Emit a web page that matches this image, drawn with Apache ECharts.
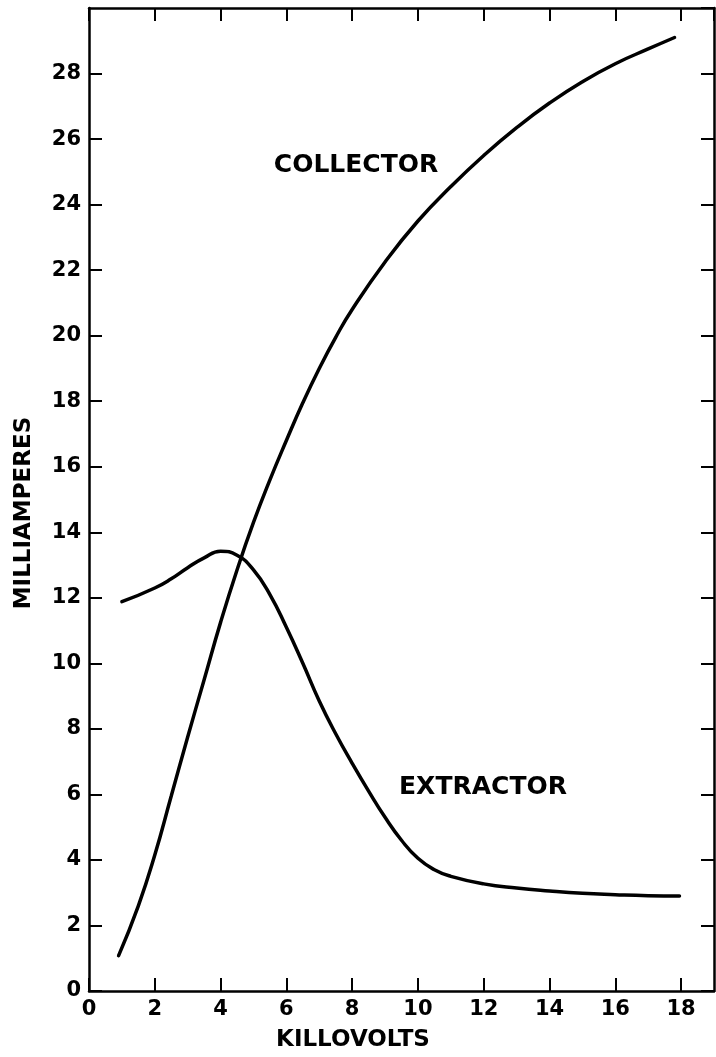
<!DOCTYPE html>
<html>
<head>
<meta charset="utf-8">
<script src="https://cdn.jsdelivr.net/npm/echarts@6/dist/echarts.min.js"></script>
<style>
    html, body { margin: 0; padding: 0; background: #fff; }
    #chart { width: 716px; height: 1057px; }
</style>
</head>
<body>
<div id="chart"></div>
<script>
// 曲线数据 (千伏, 毫安)
const collectorX = [0.9, 1.5, 2, 2.5, 3, 3.5, 4, 4.5, 5, 5.5, 6, 6.5, 7, 7.5, 8, 9, 10, 11, 12, 13, 14, 15, 16, 17, 17.8];
const collectorY = [1.08, 2.6, 4.15, 5.95, 7.75, 9.5, 11.25, 12.85, 14.3, 15.6, 16.8, 17.95, 19.0, 19.95, 20.8, 22.25, 23.5, 24.55, 25.5, 26.35, 27.1, 27.75, 28.3, 28.75, 29.1];
const extractorX = [1.0, 2.0, 2.5, 3.0, 3.5, 4.0, 4.5, 5.0, 5.5, 6.0, 6.5, 7.0, 7.5, 8.0, 8.5, 9.0, 9.5, 10.0, 10.5, 11.0, 12.0, 13.0, 14.0, 15.0, 16.0, 17.0, 17.95];
const extractorY = [11.88, 12.3, 12.58, 12.92, 13.22, 13.42, 13.3, 12.85, 12.1, 11.1, 10.0, 8.85, 7.85, 6.95, 6.1, 5.3, 4.6, 4.05, 3.7, 3.5, 3.27, 3.14, 3.05, 2.98, 2.94, 2.91, 2.9];

const xMin = 0, xMax = 19, xStep = 2;
const yMin = 0, yMax = 30, yStep = 2;

const FONT = "DejaVu Sans";

function pairs(xs, ys) {
    return xs.map((x, i) => [x, ys[i]]);
}

const chart = echarts.init(document.getElementById("chart"));

const lineAxis = { show: true, onZero: false, lineStyle: { color: "#000", width: 2.5 } };
const tickIn = { show: true, inside: true, length: 13, lineStyle: { color: "#000", width: 2 } };
const labelStyle = { color: "#000", fontFamily: FONT, fontWeight: "bold", fontSize: 21, margin: 8, showMaxLabel: false };

chart.setOption({
    backgroundColor: "#fff",
    animation: false,
    grid: { left: 89, right: 2, top: 8, bottom: 66 },
    xAxis: [
        {
            type: "value", min: xMin, max: xMax, interval: xStep, position: "bottom",
            axisLine: lineAxis, axisTick: tickIn, splitLine: { show: false },
            axisLabel: labelStyle,
        },
        {
            type: "value", min: xMin, max: xMax, interval: xStep, position: "top",
            axisLine: lineAxis, axisTick: tickIn, splitLine: { show: false },
            axisLabel: { show: false },
        },
    ],
    yAxis: [
        {
            type: "value", min: yMin, max: yMax, interval: yStep, position: "left",
            axisLine: lineAxis, axisTick: tickIn, splitLine: { show: false },
            axisLabel: labelStyle,
        },
        {
            type: "value", min: yMin, max: yMax, interval: yStep, position: "right",
            axisLine: lineAxis, axisTick: tickIn, splitLine: { show: false },
            axisLabel: { show: false },
        },
    ],
    series: [
        {
            name: "COLLECTOR", type: "line", smooth: 0.5, showSymbol: false,
            data: pairs(collectorX, collectorY),
            lineStyle: { color: "#000", width: 3.5, cap: "round" },
        },
        {
            name: "EXTRACTOR", type: "line", smooth: 0.5, showSymbol: false,
            data: pairs(extractorX, extractorY),
            lineStyle: { color: "#000", width: 3.5, cap: "round" },
        },
    ],
    // 曲线标注和坐标轴名称
    graphic: [
        { type: "text", x: 356, y: 165, style: { text: "COLLECTOR", font: "bold 25px " + FONT, fill: "#000", align: "center", verticalAlign: "middle" } },
        { type: "text", x: 483, y: 787, style: { text: "EXTRACTOR", font: "bold 25px " + FONT, fill: "#000", align: "center", verticalAlign: "middle" } },
        { type: "text", x: 353, y: 1040, style: { text: "KILLOVOLTS", font: "bold 23px " + FONT, fill: "#000", align: "center", verticalAlign: "middle" } },
        { type: "text", x: 24, y: 513, rotation: Math.PI / 2, style: { text: "MILLIAMPERES", font: "bold 23px " + FONT, fill: "#000", align: "center", verticalAlign: "middle" } },
    ],
});
</script>
</body>
</html>
